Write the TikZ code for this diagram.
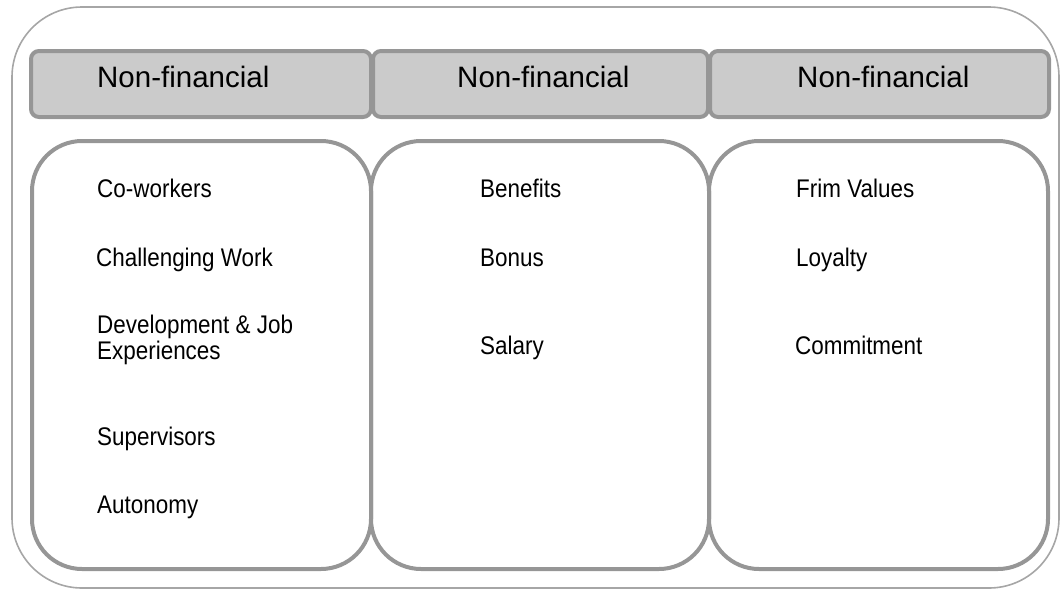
\documentclass[tikz,border=0pt]{standalone}
\usepackage{fontspec}
\setmainfont{Liberation Sans}
\newfontfamily\narrowfont[FakeStretch=0.88]{Liberation Sans}
\definecolor{frameg}{HTML}{A6A6A6}
\definecolor{lineg}{HTML}{969696}
\definecolor{fillg}{HTML}{CBCBCB}
\begin{document}
\begin{tikzpicture}[x=1pt,y=-1pt,
  outerframe/.style={draw=frameg,line width=1.6pt,rounded corners=70pt},
  headbox/.style={draw=lineg,fill=fillg,line width=4pt,rounded corners=8pt},
  bodybox/.style={draw=lineg,line width=4pt,rounded corners=50pt},
  headtxt/.style={anchor=base west,inner sep=0pt,font=\fontsize{29.5}{34}\selectfont},
  itemtxt/.style={anchor=base west,inner sep=0pt,align=left,font=\narrowfont\fontsize{25.5}{25}\selectfont}]
\useasboundingbox (0,0) rectangle (1061,590);
\draw[outerframe] (12,7) rectangle (1059,588);
% headers
\draw[headbox] (31,51) rectangle (371,117);
\draw[headbox] (373,51) rectangle (708,117);
\draw[headbox] (710,51) rectangle (1049,117);
% bodies
\draw[bodybox] (32,141) rectangle (371,569);
\draw[bodybox] (371,141) rectangle (709,569);
\draw[bodybox] (709,141) rectangle (1048,569);
% header texts
\node[headtxt] (h1) at (97,87) {Non-financial};
\node[headtxt] (h2) at (457,87) {Non-financial};
\node[headtxt] (h3) at (797,87) {Non-financial};
% column 1
\node[itemtxt] (cw) at (97,197) {Co-workers};
\node[itemtxt] (chw) at (96,266) {Challenging Work};
\node[itemtxt] (dev) at (97,333) {Development \& Job};
\node[itemtxt] (exp) at (97,359) {Experiences};
\node[itemtxt] (sup) at (97,445) {Supervisors};
\node[itemtxt] (aut) at (97,513) {Autonomy};
% column 2
\node[itemtxt] (ben) at (480,197) {Benefits};
\node[itemtxt] (bon) at (480,266) {Bonus};
\node[itemtxt] (sal) at (480,354) {Salary};
% column 3
\node[itemtxt] (fv) at (796,197) {Frim Values};
\node[itemtxt] (loy) at (796,266) {Loyalty};
\node[itemtxt] (com) at (795,354) {Commitment};
\end{tikzpicture}
\end{document}
